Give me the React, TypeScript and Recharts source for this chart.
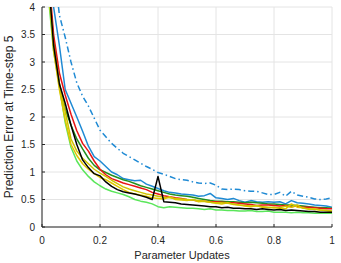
import { CartesianGrid, Label, Line, LineChart, XAxis, YAxis } from "recharts";

// Prediction error at time-step 5 vs. parameter updates (MATLAB-style box plot).

const updates = [
  0.02, 0.04, 0.06, 0.08, 0.1, 0.12, 0.14, 0.16, 0.18, 0.2,
  0.22, 0.24, 0.26, 0.28, 0.3, 0.32, 0.34, 0.36, 0.38, 0.4,
  0.42, 0.44, 0.46, 0.48, 0.5, 0.52, 0.54, 0.56, 0.58, 0.6,
  0.62, 0.64, 0.66, 0.68, 0.7, 0.72, 0.74, 0.76, 0.78, 0.8,
  0.82, 0.84, 0.86, 0.88, 0.9, 0.92, 0.94, 0.96, 0.98, 1.0,
];

const blueDashDot = [
  6.2, 4.8, 3.85, 3.45, 3.0, 2.62, 2.38, 2.2, 1.98, 1.76,
  1.64, 1.52, 1.43, 1.34, 1.28, 1.22, 1.16, 1.1, 1.05, 0.99,
  0.96, 0.92, 0.88, 0.86, 0.85, 0.82, 0.8, 0.79, 0.8, 0.76,
  0.69, 0.68, 0.69, 0.68, 0.66, 0.65, 0.65, 0.62, 0.59, 0.59,
  0.63, 0.56, 0.65, 0.58, 0.56, 0.54, 0.51, 0.5, 0.51, 0.53,
];
const blue = [
  5.2, 4.0, 3.3, 2.5, 2.25, 2.0, 1.74, 1.47, 1.28, 1.2,
  1.1, 1.0, 0.95, 0.88, 0.86, 0.84, 0.85, 0.78, 0.74, 0.7,
  0.66, 0.63, 0.62, 0.6, 0.59, 0.58, 0.56, 0.57, 0.61, 0.53,
  0.52, 0.5, 0.52, 0.48, 0.45, 0.48, 0.46, 0.45, 0.46, 0.45,
  0.46, 0.42, 0.48, 0.44, 0.43, 0.42, 0.4, 0.39, 0.38, 0.36,
];
const red = [
  4.8, 3.5, 2.8, 2.4, 2.05, 1.75, 1.52, 1.38, 1.2, 1.05,
  0.95, 0.88, 0.84, 0.8, 0.77, 0.74, 0.71, 0.68, 0.63, 0.6,
  0.57, 0.55, 0.53, 0.52, 0.5, 0.49, 0.47, 0.47, 0.46, 0.46,
  0.45, 0.44, 0.44, 0.43, 0.42, 0.41, 0.39, 0.4, 0.4, 0.39,
  0.38, 0.39, 0.37, 0.38, 0.36, 0.36, 0.35, 0.34, 0.33, 0.33,
];
const green = [
  4.6, 3.4, 2.6, 2.14, 1.85, 1.6, 1.42, 1.25, 1.12, 1.04,
  0.99, 0.94, 0.9, 0.86, 0.83, 0.79, 0.75, 0.72, 0.69, 0.66,
  0.63, 0.6, 0.58, 0.57, 0.56, 0.54, 0.52, 0.5, 0.48, 0.47,
  0.47, 0.46, 0.46, 0.45, 0.44, 0.45, 0.44, 0.43, 0.42, 0.42,
  0.41, 0.4, 0.4, 0.39, 0.38, 0.37, 0.36, 0.35, 0.35, 0.34,
];
const yellowA = [
  4.6, 3.3, 2.6, 2.1, 1.6, 1.38, 1.25, 1.15, 1.05, 0.98,
  0.92, 0.85, 0.79, 0.73, 0.69, 0.66, 0.63, 0.6, 0.58, 0.56,
  0.54, 0.53, 0.52, 0.51, 0.5, 0.49, 0.48, 0.47, 0.45, 0.44,
  0.44, 0.43, 0.42, 0.4, 0.39, 0.38, 0.38, 0.37, 0.36, 0.35,
  0.35, 0.38, 0.36, 0.4, 0.34, 0.33, 0.32, 0.31, 0.3, 0.28,
];
const yellowB = [
  4.5, 3.2, 2.5, 1.95, 1.5, 1.3, 1.15, 1.05, 0.97, 0.9,
  0.86, 0.8, 0.74, 0.68, 0.63, 0.6, 0.58, 0.56, 0.53, 0.52,
  0.51, 0.55, 0.5, 0.49, 0.48, 0.5, 0.46, 0.47, 0.45, 0.43,
  0.42, 0.44, 0.41, 0.4, 0.38, 0.37, 0.39, 0.36, 0.35, 0.36,
  0.34, 0.33, 0.42, 0.36, 0.35, 0.32, 0.33, 0.31, 0.3, 0.29,
];
const black = [
  4.7, 3.3, 2.6, 2.25, 1.85, 1.5, 1.22, 1.08, 0.97, 0.93,
  0.82, 0.74, 0.68, 0.64, 0.62, 0.6, 0.57, 0.54, 0.5, 0.92,
  0.46, 0.45, 0.44, 0.42, 0.41, 0.4, 0.39, 0.38, 0.37, 0.37,
  0.35, 0.36, 0.34, 0.34, 0.33, 0.33, 0.32, 0.33, 0.32, 0.31,
  0.32, 0.3, 0.31, 0.3, 0.29, 0.28, 0.28, 0.27, 0.27, 0.27,
];
const lightGreen = [
  4.3, 3.2, 2.55, 1.9, 1.45, 1.2, 1.04, 0.92, 0.82, 0.75,
  0.69, 0.65, 0.62, 0.59, 0.55, 0.5, 0.47, 0.45, 0.42, 0.37,
  0.35, 0.37, 0.36, 0.35, 0.34, 0.34, 0.33, 0.32, 0.33, 0.31,
  0.31, 0.3, 0.3, 0.29, 0.29, 0.3, 0.28, 0.28, 0.29, 0.27,
  0.27, 0.27, 0.26, 0.27, 0.26, 0.26, 0.25, 0.25, 0.25, 0.25,
];

const xTicks = [0, 0.2, 0.4, 0.6, 0.8, 1];
const yTicks = [0, 0.5, 1, 1.5, 2, 2.5, 3, 3.5, 4];

const data = updates.map((x, i) => ({
  x,
  dd: blueDashDot[i],
  bl: blue[i],
  rd: red[i],
  gn: green[i],
  ya: yellowA[i],
  yb: yellowB[i],
  bk: black[i],
  lg: lightGreen[i],
}));

const axisColor = "#262626";
const font = "Liberation Sans, Arial, sans-serif";
const tickStyle = { fill: axisColor, fontSize: 10, fontFamily: font };
const labelStyle = { fill: axisColor, fontSize: 11, fontFamily: font };

const series = [
  { key: "lg", color: "#5ae65a" },
  { key: "dd", color: "#1f8ad4", dash: "6 3 1.5 3" },
  { key: "bl", color: "#1f8ad4" },
  { key: "gn", color: "#22901e" },
  { key: "rd", color: "#e81414" },
  { key: "yb", color: "#e0c600" },
  { key: "ya", color: "#cfc400" },
  { key: "bk", color: "#000000" },
];

export default function App() {
  return (
    <div style={{ position: "absolute", left: 0, top: 0, background: "#fff" }}>
      <LineChart
        width={341}
        height={263}
        data={data}
        margin={{ top: 7, right: 9, bottom: 0, left: 0 }}
      >
        <CartesianGrid stroke="#e4e4e4" strokeWidth={1} />
        <XAxis
          dataKey="x"
          type="number"
          domain={[0, 1]}
          ticks={xTicks}
          height={36}
          tick={tickStyle}
          tickSize={-3}
          tickMargin={13}
          stroke={axisColor}
          allowDataOverflow
        >
          <Label
            value="Parameter Updates"
            position="insideBottom"
            offset={4}
            dx={-5}
            style={labelStyle}
          />
        </XAxis>
        <XAxis
          xAxisId="top"
          orientation="top"
          dataKey="x"
          type="number"
          domain={[0, 1]}
          ticks={xTicks}
          height={0}
          tick={false}
          tickSize={-3}
          stroke={axisColor}
        />
        <YAxis
          type="number"
          domain={[0, 4]}
          ticks={yTicks}
          width={42}
          tick={tickStyle}
          tickSize={-3}
          tickMargin={10}
          stroke={axisColor}
          allowDataOverflow
        >
          <Label
            value="Prediction Error at Time-step 5"
            angle={-90}
            position="insideLeft"
            offset={9}
            style={{ ...labelStyle, fontSize: 12, textAnchor: "middle" }}
          />
        </YAxis>
        <YAxis
          yAxisId="right"
          orientation="right"
          type="number"
          domain={[0, 4]}
          ticks={yTicks}
          width={0}
          tick={false}
          tickSize={-3}
          stroke={axisColor}
        />
        {series.map((s) => (
          <Line
            key={s.key}
            dataKey={s.key}
            stroke={s.color}
            strokeWidth={1.5}
            strokeDasharray={s.dash}
            strokeLinejoin="round"
            dot={false}
            activeDot={false}
            isAnimationActive={false}
          />
        ))}
      </LineChart>
    </div>
  );
}
